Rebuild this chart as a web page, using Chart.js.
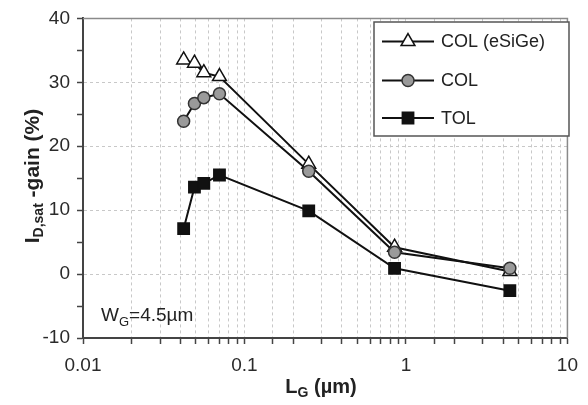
<!DOCTYPE html>
<html>
<head>
<meta charset="utf-8">
<script src="https://cdn.jsdelivr.net/npm/chart.js@4.4.1/dist/chart.umd.min.js"></script>
<style>
  html, body { margin: 0; padding: 0; background: #fff; }
  #wrap { width: 588px; height: 405px; }
</style>
</head>
<body>
<div id="wrap"><canvas id="c" width="588" height="405"></canvas></div>
<script>
// ---- data ----
const gateLengths = [0.042, 0.049, 0.056, 0.07, 0.25, 0.85, 4.4];   // L_G (µm)
const gainColESiGe = [33.5, 33.0, 31.5, 30.9, 17.2, 4.2, 0.4];
const gainCol      = [23.9, 26.7, 27.6, 28.2, 16.1, 3.4, 0.9];
const gainTol      = [7.1, 13.6, 14.2, 15.5, 9.9, 0.9, -2.6];
const seriesNames  = ['COL (eSiGe)', 'COL', 'TOL'];
const xTickLabels  = ['0.01', '0.1', '1', '10'];
const yTickValues  = [-10, 0, 10, 20, 30, 40];

const FONT = '"Liberation Sans", Arial, sans-serif';
const toPts = (ys) => ys.map((y, i) => ({ x: gateLengths[i], y }));

const styles = [
  { pointStyle: 'triangle', radius: 8, bg: '#ffffff', border: '#111', order: 1 },
  { pointStyle: 'circle', radius: 6, bg: '#9a9a9a', border: '#333', order: 0 },
  { pointStyle: 'rect', radius: 8, bg: '#111', border: '#111', order: 2 }
];
const allData = [gainColESiGe, gainCol, gainTol];

const datasets = allData.map((d, i) => ({
  label: seriesNames[i],
  data: toPts(d),
  borderColor: '#111',
  borderWidth: 2,
  pointStyle: styles[i].pointStyle,
  pointRadius: styles[i].radius,
  pointHoverRadius: styles[i].radius,
  pointBackgroundColor: styles[i].bg,
  pointBorderColor: styles[i].border,
  pointBorderWidth: 1.5,
  order: styles[i].order,
  tension: 0,
  fill: false
}));

function drawMarker(ctx, style, x, y) {
  ctx.save();
  ctx.fillStyle = style.bg;
  ctx.strokeStyle = style.border;
  ctx.lineWidth = 1.5;
  ctx.beginPath();
  const r = style.radius;
  if (style.pointStyle === 'triangle') {
    for (let k = 0; k < 3; k++) {
      const a = k * 2 * Math.PI / 3;
      const px = x + Math.sin(a) * r, py = y - Math.cos(a) * r;
      if (k === 0) ctx.moveTo(px, py); else ctx.lineTo(px, py);
    }
    ctx.closePath();
  } else if (style.pointStyle === 'circle') {
    ctx.arc(x, y, r, 0, Math.PI * 2);
  } else {
    const s = r * Math.SQRT1_2;
    ctx.rect(x - s, y - s, 2 * s, 2 * s);
  }
  ctx.fill();
  ctx.stroke();
  ctx.restore();
}

const decorPlugin = {
  id: 'decor',
  afterDraw(chart) {
    const ctx = chart.ctx;
    const ca = chart.chartArea;
    ctx.save();
    // top and right frame
    ctx.strokeStyle = '#8a8a8a';
    ctx.lineWidth = 1.5;
    ctx.beginPath();
    ctx.moveTo(ca.left, ca.top);
    ctx.lineTo(ca.right, ca.top);
    ctx.lineTo(ca.right, ca.bottom);
    ctx.stroke();

    // legend
    const lx = 374, ly = 22, lw = 195, lh = 114;
    ctx.fillStyle = '#fff';
    ctx.fillRect(lx, ly, lw, lh);
    ctx.strokeStyle = '#555';
    ctx.lineWidth = 1.5;
    ctx.strokeRect(lx, ly, lw, lh);
    const rows = [41.5, 80.5, 118];
    seriesNames.forEach((name, i) => {
      const y = rows[i];
      ctx.strokeStyle = '#111';
      ctx.lineWidth = 2;
      ctx.beginPath();
      ctx.moveTo(382, y);
      ctx.lineTo(434, y);
      ctx.stroke();
      drawMarker(ctx, styles[i], 408, y);
      ctx.fillStyle = '#222';
      ctx.font = '18px ' + FONT;
      ctx.textAlign = 'left';
      ctx.textBaseline = 'middle';
      ctx.fillText(name, 441, y + 1);
    });

    // W_G annotation
    ctx.fillStyle = '#222';
    ctx.textBaseline = 'alphabetic';
    ctx.textAlign = 'left';
    let x = 101;
    ctx.font = '19px ' + FONT;
    ctx.fillText('W', x, 321); x += ctx.measureText('W').width;
    ctx.font = '13px ' + FONT;
    ctx.fillText('G', x, 326); x += ctx.measureText('G').width;
    ctx.font = '19px ' + FONT;
    ctx.fillText('=4.5\u00b5m', x, 321);

    // x-axis title
    const bMain = 'bold 20px ' + FONT, bSub = 'bold 14px ' + FONT;
    ctx.font = bMain; const wL = ctx.measureText('L').width;
    const wRest = ctx.measureText(' (\u00b5m)').width;
    ctx.font = bSub; const wG = ctx.measureText('G').width;
    let tx = 321 - (wL + wG + wRest) / 2;
    ctx.font = bMain; ctx.fillText('L', tx, 393); tx += wL;
    ctx.font = bSub; ctx.fillText('G', tx, 397); tx += wG;
    ctx.font = bMain; ctx.fillText(' (\u00b5m)', tx, 393);

    // y-axis title (rotated)
    ctx.translate(39, 176);
    ctx.rotate(-Math.PI / 2);
    const yMain = 'bold 21px ' + FONT, ySub = 'bold 14px ' + FONT;
    ctx.font = yMain; const wI = ctx.measureText('I').width;
    const wR = ctx.measureText(' -gain (%)').width;
    ctx.font = ySub; const wS = ctx.measureText('D,sat').width;
    let ty = -(wI + wS + wR) / 2;
    ctx.font = yMain; ctx.fillText('I', ty, 0); ty += wI;
    ctx.font = ySub; ctx.fillText('D,sat', ty, 4); ty += wS;
    ctx.font = yMain; ctx.fillText(' -gain (%)', ty, 0);
    ctx.restore();
  }
};

const isPow10 = (v) => Math.abs(Math.log10(v) - Math.round(Math.log10(v))) < 1e-6;

new Chart(document.getElementById('c'), {
  type: 'line',
  data: { datasets },
  options: {
    responsive: false,
    animation: false,
    events: [],
    layout: { padding: { left: 0, top: 15, right: 12, bottom: 0 } },
    plugins: { legend: { display: false }, tooltip: { enabled: false }, title: { display: false } },
    scales: {
      x: {
        type: 'logarithmic',
        min: 0.01,
        max: 10,
        afterFit(s) { s.height = 67; },
        border: { display: true, color: '#444', width: 2, dash: [3, 3] },
        grid: {
          color: (c) => (c.tick && c.index > 0 && c.tick.value < 9.99) ? '#c8c8c8' : 'rgba(0,0,0,0)',
          lineWidth: 1,
          tickColor: '#444',
          tickLength: 6,
          tickWidth: 1.5
        },
        ticks: {
          autoSkip: false,
          maxRotation: 0,
          minRotation: 0,
          padding: 10,
          color: '#2a2a2a',
          font: { family: FONT, size: 19 },
          callback: (v) => {
            if (!isPow10(v)) return '';
            const idx = Math.round(Math.log10(v)) + 2;
            return xTickLabels[idx];
          }
        }
      },
      y: {
        type: 'linear',
        min: -10,
        max: 40,
        afterFit(s) { s.width = 83; },
        border: { display: true, color: '#444', width: 2, dash: [3, 3] },
        grid: {
          color: (c) => (c.tick && yTickValues.includes(c.tick.value) && c.tick.value > -10 && c.tick.value < 40) ? '#c8c8c8' : 'rgba(0,0,0,0)',
          lineWidth: 1,
          tickColor: '#444',
          tickLength: 6,
          tickWidth: 1.5
        },
        ticks: {
          stepSize: 5,
          padding: 7,
          color: '#2a2a2a',
          font: { family: FONT, size: 19 },
          callback: (v) => yTickValues.includes(v) ? String(v) : ''
        }
      }
    }
  },
  plugins: [decorPlugin]
});
</script>
</body>
</html>
